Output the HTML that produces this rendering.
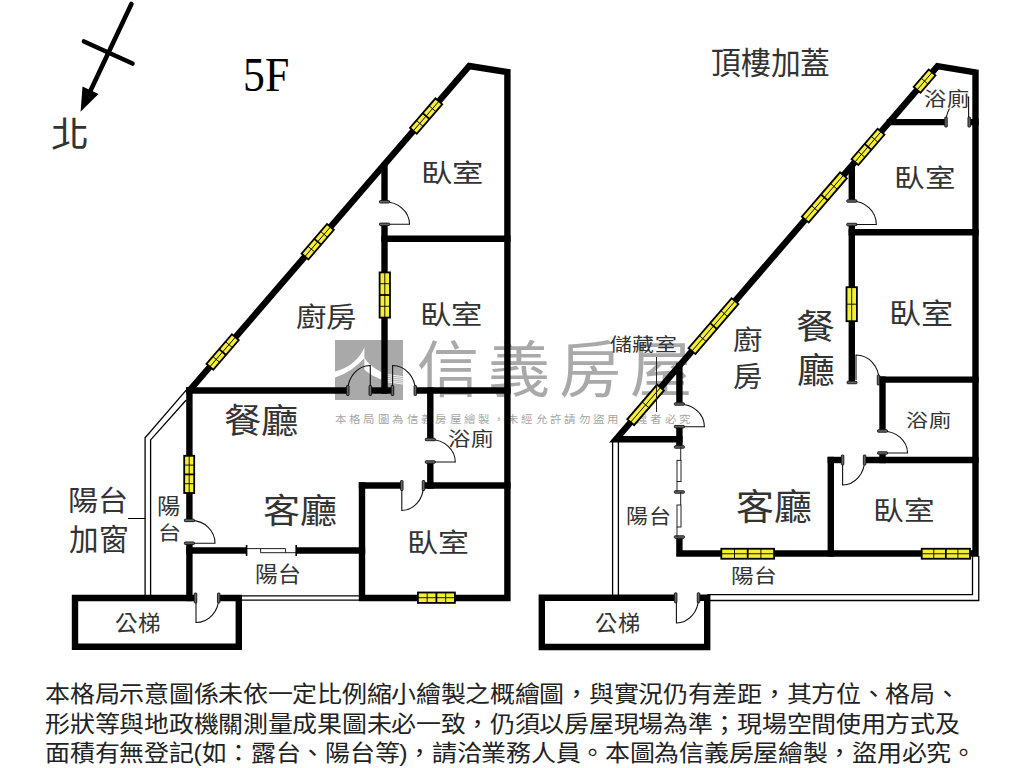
<!DOCTYPE html>
<html lang="zh-TW"><head><meta charset="utf-8"><title>floor plan</title>
<style>
html,body{margin:0;padding:0;background:#fff;width:1024px;height:768px;overflow:hidden;position:relative}
.t{position:absolute;font-family:"Liberation Serif",serif;color:#333;white-space:nowrap;line-height:1.2;transform-origin:0 0}
.wm{position:absolute;font-family:"Liberation Sans",sans-serif;color:#a9a9a9;white-space:nowrap;line-height:1.2}
.wms{position:absolute;font-family:"Liberation Sans",sans-serif;color:#a6a6a6;white-space:nowrap;line-height:1.2}
.b{position:absolute;font-family:"Liberation Sans",sans-serif;font-size:25px;letter-spacing:-0.29px;color:#222;white-space:nowrap;line-height:1.2;transform:scale(1,0.92);transform-origin:0 0}
</style></head><body>
<div style="position:absolute;left:335px;top:340px;width:67.9px;height:59.7px;background:#a9a9a9"></div>
<svg width="1024" height="768" style="position:absolute;left:0;top:0"><path d="M335,371.6 Q356,366 364.4,347.5 L364.4,358 Q352,372 335,377.6 Z" fill="#fff"/><path d="M364.4,357.5 C368,364 376,370 386,374 L386,381 C377,378.5 369,374 364.4,369.6 Z" fill="#fff"/><path d="M384,374.2 L402.9,376.6 M384,376 L402.9,378.5 M384,378 L402.9,380.4 M384,380 L402.9,382.3 M384,381.5 L402.9,384" stroke="#fff" stroke-width="0.9" fill="none"/></svg>
<div class="wm" style="left:416.9px;top:334.56px;font-size:62px;letter-spacing:9px;transform:scale(1,0.99);transform-origin:0 0">信義房屋</div>
<div class="wms" style="left:334.8px;top:414.2px;font-size:11.5px;letter-spacing:3.35px;transform:scale(1,0.9);transform-origin:0 0">本格局圖為信義房屋繪製，未經允許請勿盜用　違者必究</div>
<svg width="1024" height="768" viewBox="0 0 1024 768" style="position:absolute;left:0;top:0">
<line x1="131.4" y1="4" x2="88" y2="96" stroke="#000" stroke-width="4.6" stroke-linecap="round"/>
<line x1="84" y1="41.5" x2="132.5" y2="63.5" stroke="#000" stroke-width="4.6" stroke-linecap="round"/>
<polygon points="80.6,111.7 82.5,86.5 98.5,94" fill="#000"/>
<path d="M186,390.4 L145.1,437.8 L145.1,598" fill="none" stroke="#000" stroke-width="1.3"/>
<path d="M186,400.3 L150.6,439.9 L150.6,598" fill="none" stroke="#000" stroke-width="1.3"/>
<path d="M238.8,595.8 L362,595.8" fill="none" stroke="#000" stroke-width="1.3"/>
<path d="M238.8,600.2 L362,600.2" fill="none" stroke="#000" stroke-width="1.3"/>
<path d="M128,518.5 L145.1,518.5" fill="none" stroke="#000" stroke-width="1"/>
<path d="M189.4,390.5 L469.3,66 L507.4,72 L507.4,598 L362,598 L362,485.5" fill="none" stroke="#000" stroke-width="6.4" stroke-linecap="square" stroke-linejoin="miter"/>
<path d="M186.2,390.5 L346.6,390.5" fill="none" stroke="#000" stroke-width="6.4" stroke-linecap="butt" stroke-linejoin="miter"/>
<path d="M371.5,390.5 L391.3,390.5" fill="none" stroke="#000" stroke-width="6.4" stroke-linecap="butt" stroke-linejoin="miter"/>
<path d="M416.5,390.5 L510.6,390.5" fill="none" stroke="#000" stroke-width="6.4" stroke-linecap="butt" stroke-linejoin="miter"/>
<path d="M384.5,162.8 L384.5,200.6" fill="none" stroke="#000" stroke-width="6.4" stroke-linecap="butt" stroke-linejoin="miter"/>
<path d="M384.5,225.5 L384.5,393.7" fill="none" stroke="#000" stroke-width="6.4" stroke-linecap="butt" stroke-linejoin="miter"/>
<path d="M384.5,238.8 L507.4,238.8" fill="none" stroke="#000" stroke-width="6.4" stroke-linecap="square" stroke-linejoin="miter"/>
<path d="M189.4,387.3 L189.4,519.2" fill="none" stroke="#000" stroke-width="6.4" stroke-linecap="butt" stroke-linejoin="miter"/>
<path d="M189.4,544.4 L189.4,601.2" fill="none" stroke="#000" stroke-width="6.4" stroke-linecap="butt" stroke-linejoin="miter"/>
<path d="M186.2,550.5 L246.4,550.5" fill="none" stroke="#000" stroke-width="6.4" stroke-linecap="butt" stroke-linejoin="miter"/>
<path d="M296.4,550.5 L365.2,550.5" fill="none" stroke="#000" stroke-width="6.4" stroke-linecap="butt" stroke-linejoin="miter"/>
<path d="M430.3,387.3 L430.3,438.3" fill="none" stroke="#000" stroke-width="6.4" stroke-linecap="butt" stroke-linejoin="miter"/>
<path d="M430.3,463.2 L430.3,488.7" fill="none" stroke="#000" stroke-width="6.4" stroke-linecap="butt" stroke-linejoin="miter"/>
<path d="M358.8,485.5 L400.6,485.5" fill="none" stroke="#000" stroke-width="6.4" stroke-linecap="butt" stroke-linejoin="miter"/>
<path d="M424.7,485.5 L510.6,485.5" fill="none" stroke="#000" stroke-width="6.4" stroke-linecap="butt" stroke-linejoin="miter"/>
<path d="M194.3,598 L75,598 L75,646.8 L238.8,646.8 L238.8,598 L219.9,598" fill="none" stroke="#000" stroke-width="6.4" stroke-linecap="butt" stroke-linejoin="miter"/>
<path d="M384.5,201.8 A25,22.5 0 0 1 409.5,224.3 L384.5,224.3" fill="none" stroke="#111" stroke-width="1.1"/>
<path d="M347.8,390.5 A22.5,25 0 0 1 370.3,365.5 L370.3,390.5" fill="none" stroke="#111" stroke-width="1.1"/>
<path d="M392.6,390.5 L392.6,365.5 A22.7,25 0 0 1 415.3,390.5" fill="none" stroke="#111" stroke-width="1.1"/>
<path d="M191,520.4 A24,22.8 0 0 1 215,543.2 L191,543.2" fill="none" stroke="#111" stroke-width="1.1"/>
<path d="M430.3,439.5 A25,22.5 0 0 1 455.3,462 L430.3,462" fill="none" stroke="#111" stroke-width="1.1"/>
<path d="M401.8,485.5 L401.8,510.5 A21.7,25 0 0 0 423.5,485.5" fill="none" stroke="#111" stroke-width="1.1"/>
<path d="M196,598 L196,622.5 A22.7,24.5 0 0 0 218.7,598" fill="none" stroke="#111" stroke-width="1.1"/>
<rect x="379.5" y="200.55" width="10" height="2.5" rx="0.7" fill="#666" stroke="#000" stroke-width="0.8"/>
<rect x="379.5" y="223.05" width="10" height="2.5" rx="0.7" fill="#666" stroke="#000" stroke-width="0.8"/>
<rect x="184.4" y="519.15" width="10" height="2.5" rx="0.7" fill="#666" stroke="#000" stroke-width="0.8"/>
<rect x="184.4" y="541.95" width="10" height="2.5" rx="0.7" fill="#666" stroke="#000" stroke-width="0.8"/>
<rect x="425.3" y="438.25" width="10" height="2.5" rx="0.7" fill="#666" stroke="#000" stroke-width="0.8"/>
<rect x="425.3" y="460.75" width="10" height="2.5" rx="0.7" fill="#666" stroke="#000" stroke-width="0.8"/>
<rect x="346.55" y="385.5" width="2.5" height="10" rx="0.7" fill="#666" stroke="#000" stroke-width="0.8"/>
<rect x="369.05" y="385.5" width="2.5" height="10" rx="0.7" fill="#666" stroke="#000" stroke-width="0.8"/>
<rect x="391.25" y="385.5" width="2.5" height="10" rx="0.7" fill="#666" stroke="#000" stroke-width="0.8"/>
<rect x="414.05" y="385.5" width="2.5" height="10" rx="0.7" fill="#666" stroke="#000" stroke-width="0.8"/>
<rect x="400.55" y="480.5" width="2.5" height="10" rx="0.7" fill="#666" stroke="#000" stroke-width="0.8"/>
<rect x="422.25" y="480.5" width="2.5" height="10" rx="0.7" fill="#666" stroke="#000" stroke-width="0.8"/>
<rect x="194.25" y="593" width="2.5" height="10" rx="0.7" fill="#666" stroke="#000" stroke-width="0.8"/>
<rect x="217.45" y="593" width="2.5" height="10" rx="0.7" fill="#666" stroke="#000" stroke-width="0.8"/>
<path d="M246.6,548.6 L285.6,548.6" fill="none" stroke="#222" stroke-width="1"/>
<path d="M260.6,548.6 L260.6,552.7 L296.2,552.7" fill="none" stroke="#222" stroke-width="1"/>
<path d="M285.6,548.6 L285.6,552.7" fill="none" stroke="#222" stroke-width="1"/>
<path d="M246.6,545 L246.6,556" fill="none" stroke="#000" stroke-width="1.6"/>
<path d="M296.2,545 L296.2,556" fill="none" stroke="#000" stroke-width="1.6"/>
<g transform="translate(222.6,352.01) rotate(-49.22)">
<rect x="-19.5" y="-4.5" width="39" height="9" fill="#f4ee35" stroke="#000" stroke-width="1.8"/>
<line x1="-19.5" y1="0" x2="19.5" y2="0" stroke="#000" stroke-width="0.9"/>
<line x1="-9.75" y1="-4.5" x2="-9.75" y2="4.5" stroke="#000" stroke-width="0.9"/>
<line x1="0" y1="-4.5" x2="0" y2="4.5" stroke="#000" stroke-width="1.8"/>
<line x1="9.75" y1="-4.5" x2="9.75" y2="4.5" stroke="#000" stroke-width="0.9"/>
</g>
<g transform="translate(317.71,241.75) rotate(-49.22)">
<rect x="-19.5" y="-4.5" width="39" height="9" fill="#f4ee35" stroke="#000" stroke-width="1.8"/>
<line x1="-19.5" y1="0" x2="19.5" y2="0" stroke="#000" stroke-width="0.9"/>
<line x1="-9.75" y1="-4.5" x2="-9.75" y2="4.5" stroke="#000" stroke-width="0.9"/>
<line x1="0" y1="-4.5" x2="0" y2="4.5" stroke="#000" stroke-width="1.8"/>
<line x1="9.75" y1="-4.5" x2="9.75" y2="4.5" stroke="#000" stroke-width="0.9"/>
</g>
<g transform="translate(426.11,116.07) rotate(-49.22)">
<rect x="-19.5" y="-4.5" width="39" height="9" fill="#f4ee35" stroke="#000" stroke-width="1.8"/>
<line x1="-19.5" y1="0" x2="19.5" y2="0" stroke="#000" stroke-width="0.9"/>
<line x1="-9.75" y1="-4.5" x2="-9.75" y2="4.5" stroke="#000" stroke-width="0.9"/>
<line x1="0" y1="-4.5" x2="0" y2="4.5" stroke="#000" stroke-width="1.8"/>
<line x1="9.75" y1="-4.5" x2="9.75" y2="4.5" stroke="#000" stroke-width="0.9"/>
</g>
<g transform="translate(384.8,295) rotate(-90)">
<rect x="-22.6" y="-5.2" width="45.2" height="10.4" fill="#f4ee35" stroke="#000" stroke-width="1.8"/>
<line x1="-22.6" y1="0" x2="22.6" y2="0" stroke="#000" stroke-width="0.9"/>
<line x1="-11.3" y1="-5.2" x2="-11.3" y2="5.2" stroke="#000" stroke-width="0.9"/>
<line x1="0" y1="-5.2" x2="0" y2="5.2" stroke="#000" stroke-width="1.8"/>
<line x1="11.3" y1="-5.2" x2="11.3" y2="5.2" stroke="#000" stroke-width="0.9"/>
</g>
<g transform="translate(189.2,474.4) rotate(-90)">
<rect x="-18.6" y="-5" width="37.2" height="10" fill="#f4ee35" stroke="#000" stroke-width="1.8"/>
<line x1="-18.6" y1="0" x2="18.6" y2="0" stroke="#000" stroke-width="0.9"/>
<line x1="-9.3" y1="-5" x2="-9.3" y2="5" stroke="#000" stroke-width="0.9"/>
<line x1="0" y1="-5" x2="0" y2="5" stroke="#000" stroke-width="1.8"/>
<line x1="9.3" y1="-5" x2="9.3" y2="5" stroke="#000" stroke-width="0.9"/>
</g>
<g transform="translate(436.4,597.7) rotate(0)">
<rect x="-18.5" y="-5.2" width="37" height="10.4" fill="#f4ee35" stroke="#000" stroke-width="1.8"/>
<line x1="-18.5" y1="0" x2="18.5" y2="0" stroke="#000" stroke-width="0.9"/>
<line x1="-9.25" y1="-5.2" x2="-9.25" y2="5.2" stroke="#000" stroke-width="0.9"/>
<line x1="0" y1="-5.2" x2="0" y2="5.2" stroke="#000" stroke-width="1.8"/>
<line x1="9.25" y1="-5.2" x2="9.25" y2="5.2" stroke="#000" stroke-width="0.9"/>
</g>
<path d="M612.6,439 L612.6,597.8" fill="none" stroke="#000" stroke-width="1.3"/>
<path d="M618.4,439 L618.4,597.8" fill="none" stroke="#000" stroke-width="1.3"/>
<path d="M707.2,600.5 L978.75,600.5 L978.75,556" fill="none" stroke="#000" stroke-width="1.3"/>
<path d="M707.2,594.7 L972.5,594.7 L972.5,556" fill="none" stroke="#000" stroke-width="1.3"/>
<path d="M682.6,439.2 L616,439.2 L937.5,66.2 L975.5,72.4 L975.5,553.5 L679.4,553.5 L679.4,538.2" fill="none" stroke="#000" stroke-width="6.4" stroke-linecap="butt" stroke-linejoin="miter"/>
<path d="M679.4,362.8 L679.4,402.8" fill="none" stroke="#000" stroke-width="6.4" stroke-linecap="butt" stroke-linejoin="miter"/>
<path d="M679.4,427.9 L679.4,445.8" fill="none" stroke="#000" stroke-width="6.4" stroke-linecap="butt" stroke-linejoin="miter"/>
<path d="M851.8,164.8 L851.8,199.8" fill="none" stroke="#000" stroke-width="6.4" stroke-linecap="butt" stroke-linejoin="miter"/>
<path d="M851.8,225.7 L851.8,381.3" fill="none" stroke="#000" stroke-width="6.4" stroke-linecap="butt" stroke-linejoin="miter"/>
<path d="M851.8,232.2 L975.5,232.2" fill="none" stroke="#000" stroke-width="6.4" stroke-linecap="square" stroke-linejoin="miter"/>
<path d="M886.8,122.1 L944.8,122.1" fill="none" stroke="#000" stroke-width="6.4" stroke-linecap="butt" stroke-linejoin="miter"/>
<path d="M970.4,122.1 L978.7,122.1" fill="none" stroke="#000" stroke-width="6.4" stroke-linecap="butt" stroke-linejoin="miter"/>
<path d="M879.7,379.6 L978.7,379.6" fill="none" stroke="#000" stroke-width="6.4" stroke-linecap="butt" stroke-linejoin="miter"/>
<path d="M882.5,376.4 L882.5,429.8" fill="none" stroke="#000" stroke-width="6.4" stroke-linecap="butt" stroke-linejoin="miter"/>
<path d="M882.5,454.2 L882.5,463.2" fill="none" stroke="#000" stroke-width="6.4" stroke-linecap="butt" stroke-linejoin="miter"/>
<path d="M827.6,460 L841.4,460" fill="none" stroke="#000" stroke-width="6.4" stroke-linecap="butt" stroke-linejoin="miter"/>
<path d="M865.8,460 L978.7,460" fill="none" stroke="#000" stroke-width="6.4" stroke-linecap="butt" stroke-linejoin="miter"/>
<path d="M830.8,460 L830.8,553.5" fill="none" stroke="#000" stroke-width="6.4" stroke-linecap="square" stroke-linejoin="miter"/>
<path d="M674.5,597.8 L541.8,597.8 L541.8,647 L707.2,647 L707.2,597.8 L699.7,597.8" fill="none" stroke="#000" stroke-width="6.4" stroke-linecap="butt" stroke-linejoin="miter"/>
<path d="M968.6,122.1 L968.6,97.1 A22.6,25 0 0 0 946,122.1" fill="none" stroke="#111" stroke-width="1.1"/>
<path d="M851.8,201 A24.5,23.5 0 0 1 876.3,224.5 L851.8,224.5" fill="none" stroke="#111" stroke-width="1.1"/>
<path d="M679.4,404 A25,22.7 0 0 1 704.4,426.7 L679.4,426.7" fill="none" stroke="#111" stroke-width="1.1"/>
<path d="M856,380 L856,355 A23,25 0 0 1 879,380" fill="none" stroke="#111" stroke-width="1.1"/>
<path d="M882.5,431 A25,22 0 0 1 907.5,453 L882.5,453" fill="none" stroke="#111" stroke-width="1.1"/>
<path d="M842.6,460 L842.6,485 A22,25 0 0 0 864.6,460" fill="none" stroke="#111" stroke-width="1.1"/>
<path d="M676.4,598 L676.4,623 A22.1,25 0 0 0 698.5,598" fill="none" stroke="#111" stroke-width="1.1"/>
<rect x="924" y="87" width="43.5" height="21.5" fill="#fff"/>
<rect x="846.8" y="199.75" width="10" height="2.5" rx="0.7" fill="#666" stroke="#000" stroke-width="0.8"/>
<rect x="846.8" y="223.25" width="10" height="2.5" rx="0.7" fill="#666" stroke="#000" stroke-width="0.8"/>
<rect x="674.4" y="402.75" width="10" height="2.5" rx="0.7" fill="#666" stroke="#000" stroke-width="0.8"/>
<rect x="674.4" y="425.45" width="10" height="2.5" rx="0.7" fill="#666" stroke="#000" stroke-width="0.8"/>
<rect x="877.5" y="429.75" width="10" height="2.5" rx="0.7" fill="#666" stroke="#000" stroke-width="0.8"/>
<rect x="877.5" y="451.75" width="10" height="2.5" rx="0.7" fill="#666" stroke="#000" stroke-width="0.8"/>
<rect x="674.4" y="445.75" width="10" height="2.5" rx="0.7" fill="#666" stroke="#000" stroke-width="0.8"/>
<rect x="674.4" y="490.75" width="10" height="2.5" rx="0.7" fill="#666" stroke="#000" stroke-width="0.8"/>
<rect x="674.4" y="535.75" width="10" height="2.5" rx="0.7" fill="#666" stroke="#000" stroke-width="0.8"/>
<rect x="847" y="381.25" width="10" height="2.5" rx="0.7" fill="#666" stroke="#000" stroke-width="0.8"/>
<rect x="944.75" y="117.1" width="2.5" height="10" rx="0.7" fill="#666" stroke="#000" stroke-width="0.8"/>
<rect x="967.95" y="117.1" width="2.5" height="10" rx="0.7" fill="#666" stroke="#000" stroke-width="0.8"/>
<rect x="841.35" y="455" width="2.5" height="10" rx="0.7" fill="#666" stroke="#000" stroke-width="0.8"/>
<rect x="863.35" y="455" width="2.5" height="10" rx="0.7" fill="#666" stroke="#000" stroke-width="0.8"/>
<rect x="674.45" y="592.8" width="2.5" height="10" rx="0.7" fill="#666" stroke="#000" stroke-width="0.8"/>
<rect x="697.25" y="592.8" width="2.5" height="10" rx="0.7" fill="#666" stroke="#000" stroke-width="0.8"/>
<rect x="877.25" y="375" width="2.5" height="10" rx="0.7" fill="#666" stroke="#000" stroke-width="0.8"/>
<path d="M680.7,447 L680.7,460.4" fill="none" stroke="#222" stroke-width="1"/>
<rect x="677" y="460.4" width="4" height="21.1" fill="none" stroke="#222" stroke-width="1"/>
<path d="M677,481.5 L677,492" fill="none" stroke="#222" stroke-width="1"/>
<path d="M680.7,492 L680.7,505" fill="none" stroke="#222" stroke-width="1"/>
<rect x="677" y="505" width="4" height="22" fill="none" stroke="#222" stroke-width="1"/>
<path d="M677,527 L677,537" fill="none" stroke="#222" stroke-width="1"/>
<g transform="translate(924.6,81.17) rotate(-49.24)">
<rect x="-11.5" y="-4.5" width="23" height="9" fill="#f4ee35" stroke="#000" stroke-width="1.8"/>
<line x1="-11.5" y1="0" x2="11.5" y2="0" stroke="#000" stroke-width="0.9"/>
<line x1="0" y1="-4.5" x2="0" y2="4.5" stroke="#000" stroke-width="0.9"/>
</g>
<g transform="translate(868,146.83) rotate(-49.24)">
<rect x="-20" y="-4.5" width="40" height="9" fill="#f4ee35" stroke="#000" stroke-width="1.8"/>
<line x1="-20" y1="0" x2="20" y2="0" stroke="#000" stroke-width="0.9"/>
<line x1="-10" y1="-4.5" x2="-10" y2="4.5" stroke="#000" stroke-width="0.9"/>
<line x1="0" y1="-4.5" x2="0" y2="4.5" stroke="#000" stroke-width="1.8"/>
<line x1="10" y1="-4.5" x2="10" y2="4.5" stroke="#000" stroke-width="0.9"/>
</g>
<g transform="translate(824.35,197.48) rotate(-49.24)">
<rect x="-29.25" y="-4.5" width="58.5" height="9" fill="#f4ee35" stroke="#000" stroke-width="1.8"/>
<line x1="-29.25" y1="0" x2="29.25" y2="0" stroke="#000" stroke-width="0.9"/>
<line x1="-14.63" y1="-4.5" x2="-14.63" y2="4.5" stroke="#000" stroke-width="0.9"/>
<line x1="0" y1="-4.5" x2="0" y2="4.5" stroke="#000" stroke-width="1.8"/>
<line x1="14.63" y1="-4.5" x2="14.63" y2="4.5" stroke="#000" stroke-width="0.9"/>
</g>
<g transform="translate(713.5,326.08) rotate(-49.24)">
<rect x="-33" y="-4.5" width="66" height="9" fill="#f4ee35" stroke="#000" stroke-width="1.8"/>
<line x1="-33" y1="0" x2="33" y2="0" stroke="#000" stroke-width="0.9"/>
<line x1="-16.5" y1="-4.5" x2="-16.5" y2="4.5" stroke="#000" stroke-width="0.9"/>
<line x1="0" y1="-4.5" x2="0" y2="4.5" stroke="#000" stroke-width="1.8"/>
<line x1="16.5" y1="-4.5" x2="16.5" y2="4.5" stroke="#000" stroke-width="0.9"/>
</g>
<g transform="translate(645.6,404.86) rotate(-49.24)">
<rect x="-22.85" y="-4.5" width="45.7" height="9" fill="#f4ee35" stroke="#000" stroke-width="1.8"/>
<line x1="-22.85" y1="0" x2="22.85" y2="0" stroke="#000" stroke-width="0.9"/>
<line x1="0" y1="-4.5" x2="0" y2="4.5" stroke="#000" stroke-width="0.9"/>
</g>
<g transform="translate(851.7,304.2) rotate(-90)">
<rect x="-17" y="-5.2" width="34" height="10.4" fill="#f4ee35" stroke="#000" stroke-width="1.8"/>
<line x1="-17" y1="0" x2="17" y2="0" stroke="#000" stroke-width="0.9"/>
<line x1="0" y1="-5.2" x2="0" y2="5.2" stroke="#000" stroke-width="0.9"/>
</g>
<g transform="translate(747.7,553.75) rotate(0)">
<rect x="-26.4" y="-5" width="52.8" height="10" fill="#f4ee35" stroke="#000" stroke-width="1.8"/>
<line x1="-26.4" y1="0" x2="26.4" y2="0" stroke="#000" stroke-width="0.9"/>
<line x1="-13.2" y1="-5" x2="-13.2" y2="5" stroke="#000" stroke-width="0.9"/>
<line x1="0" y1="-5" x2="0" y2="5" stroke="#000" stroke-width="1.8"/>
<line x1="13.2" y1="-5" x2="13.2" y2="5" stroke="#000" stroke-width="0.9"/>
</g>
<g transform="translate(945.85,553.75) rotate(0)">
<rect x="-24.15" y="-5" width="48.3" height="10" fill="#f4ee35" stroke="#000" stroke-width="1.8"/>
<line x1="-24.15" y1="0" x2="24.15" y2="0" stroke="#000" stroke-width="0.9"/>
<line x1="-12.07" y1="-5" x2="-12.07" y2="5" stroke="#000" stroke-width="0.9"/>
<line x1="0" y1="-5" x2="0" y2="5" stroke="#000" stroke-width="1.8"/>
<line x1="12.07" y1="-5" x2="12.07" y2="5" stroke="#000" stroke-width="0.9"/>
</g>
<path d="M656.5,357 L656.5,412" fill="none" stroke="#222" stroke-width="1"/>
</svg>
<div class="t" style="left:51.15px;top:113.82px;font-size:36px;transform:scale(1.0545,0.9938)">北</div>
<div class="t" style="left:242.91px;top:46.41px;font-size:47px;font-family:'Liberation Serif',serif;color:#000;transform:scale(0.9311,1.0226)">5F</div>
<div class="t" style="left:710.91px;top:46.48px;font-size:30px;transform:scale(0.9924,1.0071)">頂樓加蓋</div>
<div class="t" style="left:421.16px;top:157.73px;font-size:29px;transform:scale(1.0792,0.8714)">臥室</div>
<div class="t" style="left:419.76px;top:299.38px;font-size:29px;transform:scale(1.0792,0.9179)">臥室</div>
<div class="t" style="left:296.2px;top:301.56px;font-size:29px;transform:scale(1.0491,0.9375)">廚房</div>
<div class="t" style="left:223.93px;top:401.85px;font-size:36px;transform:scale(1.0362,0.9485)">餐廳</div>
<div class="t" style="left:447.71px;top:428.75px;font-size:21.5px;transform:scale(1.0366,0.9091)">浴廁</div>
<div class="t" style="left:262.94px;top:491.85px;font-size:36px;transform:scale(1.029,0.9485)">客廳</div>
<div class="t" style="left:407.4px;top:527.69px;font-size:29px;transform:scale(1.0679,0.9071)">臥室</div>
<div class="t" style="left:255.38px;top:562.75px;font-size:21.5px;transform:scale(1.0625,1.0)">陽台</div>
<div class="t" style="left:114.95px;top:611.5px;font-size:21.5px;transform:scale(1.0488,1.0)">公梯</div>
<div class="t" style="left:67.85px;top:485.46px;font-size:28px;transform:scale(1.0769,1.0185)">陽台</div>
<div class="t" style="left:68.94px;top:521.63px;font-size:28px;transform:scale(1.0566,1.0577)">加窗</div>
<div class="t" style="left:156.53px;top:493.89px;font-size:21px;transform:scale(1.1111,1.0526)">陽</div>
<div class="t" style="left:157.79px;top:521.88px;font-size:21px;transform:scale(1.1029,0.9375)">台</div>
<div class="t" style="left:894.34px;top:163.02px;font-size:29px;transform:scale(1.0528,0.8821)">臥室</div>
<div class="t" style="left:888.68px;top:297.54px;font-size:29px;transform:scale(1.1057,0.9607)">臥室</div>
<div class="t" style="left:609.98px;top:335.2px;font-size:21.5px;transform:scale(1.019,0.8476)">儲藏室</div>
<div class="t" style="left:732.99px;top:324.77px;font-size:29px;transform:scale(1.0111,0.925)">廚</div>
<div class="t" style="left:732.99px;top:360.67px;font-size:29px;transform:scale(1.0111,0.963)">房</div>
<div class="t" style="left:795.84px;top:307.38px;font-size:36px;transform:scale(1.0818,0.9618)">餐</div>
<div class="t" style="left:796.95px;top:351.07px;font-size:36px;transform:scale(1.05,0.9647)">廳</div>
<div class="t" style="left:905.98px;top:410.8px;font-size:21.5px;transform:scale(1.0244,0.8455)">浴廁</div>
<div class="t" style="left:735.55px;top:486.22px;font-size:37px;transform:scale(1.0239,0.9886)">客廳</div>
<div class="t" style="left:873.24px;top:496.09px;font-size:29px;transform:scale(1.0547,0.9071)">臥室</div>
<div class="t" style="left:625.95px;top:505.66px;font-size:21.5px;transform:scale(1.025,0.935)">陽台</div>
<div class="t" style="left:730.88px;top:565.08px;font-size:21.5px;transform:scale(1.06,0.925)">陽台</div>
<div class="t" style="left:594.97px;top:612.28px;font-size:21.5px;transform:scale(1.0317,1.015)">公梯</div>
<div class="t" style="left:923.57px;top:88.5px;font-size:21.5px;transform:scale(1.0341,0.8773)">浴廁</div>
<div class="b" style="left:45.3px;top:679.86px;">本格局示意圖係未依一定比例縮小繪製之概繪圖，與實況仍有差距，其方位、格局、</div>
<div class="b" style="left:45.3px;top:710.16px;">形狀等與地政機關測量成果圖未必一致，仍須以房屋現場為準；現場空間使用方式及</div>
<div class="b" style="left:45.3px;top:739.16px;">面積有無登記(如：露台、陽台等)，請洽業務人員。本圖為信義房屋繪製，盜用必究。</div>
</body></html>
